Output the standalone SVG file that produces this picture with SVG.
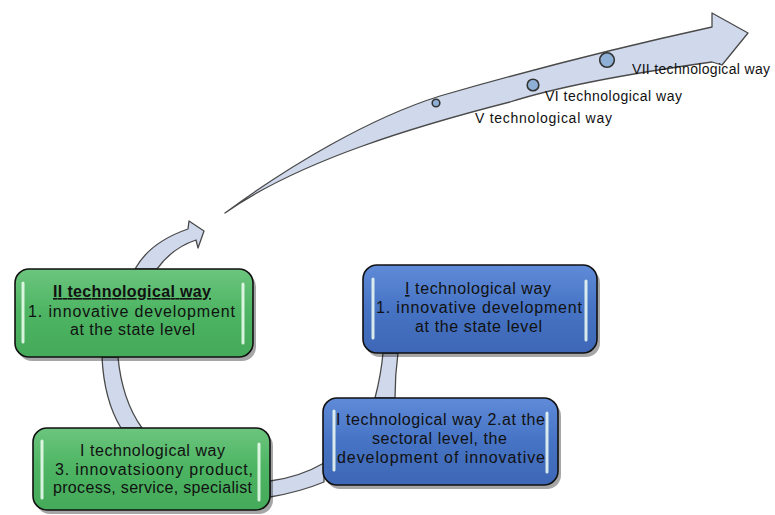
<svg xmlns="http://www.w3.org/2000/svg" width="775" height="515" viewBox="0 0 775 515">
<defs>
<linearGradient id="gGreen" x1="0" y1="0" x2="0" y2="1">
<stop offset="0" stop-color="#6cc57e"/>
<stop offset="0.5" stop-color="#4cb462"/>
<stop offset="1" stop-color="#45aa5a"/>
</linearGradient>
<linearGradient id="gBlue" x1="0" y1="0" x2="0" y2="1">
<stop offset="0" stop-color="#5f8bd8"/>
<stop offset="0.5" stop-color="#4673c4"/>
<stop offset="1" stop-color="#3e67b6"/>
</linearGradient>
<style>
.arrow{fill:#d0d9ec;stroke:#4a4a4a;stroke-width:1.3;stroke-linejoin:round}
.shadow{fill:#000;opacity:0.35}
.green{fill:url(#gGreen);stroke:#111;stroke-width:1.6}
.blue{fill:url(#gBlue);stroke:#111;stroke-width:1.6}
.hl{stroke:#f2fff4;stroke-width:3;stroke-linecap:round;opacity:0.85}
.txt{font-family:"Liberation Sans",Arial,sans-serif;font-size:16px;fill:#111}
.lbl{font-family:"Liberation Sans",Arial,sans-serif;font-size:14px;fill:#111}
.dot{fill:#8fb0d6;stroke:#333;stroke-width:1.6}
</style>
</defs>
<rect width="775" height="515" fill="#fff"/>
<g id="connectors">
<path class="arrow" d="M225,213 C290,165 370,118 440,96 C530,70 630,45 712,27 L712,13 L748,33 L722,65 L712,62 C640,72 560,86 510,102 C420,125 300,160 225,213 Z"/>
<path class="arrow" d="M135,269 Q150,242 188,229 L189,221 L204,231 L198,248 L196,240 Q172,248 157,269 Z"/>
<path class="arrow" d="M102,357 Q104,400 121,428 L142,428 Q122,400 118,357 Z"/>
<path class="arrow" d="M270,481 Q300,477 324,463 L324,482 Q300,492 270,497 Z"/>
<path class="arrow" d="M383,353 L398,353 Q395,375 395,398 L375,398 Q381,375 383,353 Z"/>
</g>
<g id="markers">
<circle class="dot" cx="436" cy="103" r="3.8"/>
<circle class="dot" cx="533" cy="85" r="5.8"/>
<circle class="dot" cx="607" cy="60" r="7.3"/>
<text class="lbl" x="475" y="123" textLength="137">V technological way</text>
<text class="lbl" x="545" y="101" textLength="137">VI technological way</text>
<text class="lbl" x="632" y="74" textLength="138">VII technological way</text>
</g>
<g id="box-II">
<rect class="shadow" x="18" y="273" width="238" height="88" rx="14"/>
<rect class="green" x="15" y="269" width="238" height="88" rx="14"/>
<line class="hl" x1="23" y1="283" x2="23" y2="342"/>
<line class="hl" x1="243" y1="284" x2="243" y2="343"/>
<text class="txt" x="53" y="297" textLength="158" font-weight="bold" text-decoration="underline">II technological way</text>
<text class="txt" x="28" y="317" textLength="207">1. innovative development</text>
<text class="txt" x="70" y="335" textLength="125">at the state level</text>
</g>
<g id="box-I-state">
<rect class="shadow" x="366" y="269" width="234" height="88" rx="14"/>
<rect class="blue" x="363" y="265" width="234" height="88" rx="14"/>
<line class="hl" x1="373" y1="279" x2="373" y2="338"/>
<line class="hl" x1="586" y1="281" x2="586" y2="340"/>
<text class="txt" x="405" y="294" textLength="146"><tspan text-decoration="underline">I</tspan> technological way</text>
<text class="txt" x="376" y="313" textLength="206">1. innovative development</text>
<text class="txt" x="415" y="332" textLength="127">at the state level</text>
</g>
<g id="box-I-product">
<rect class="shadow" x="36" y="432" width="237" height="82" rx="14"/>
<rect class="green" x="33" y="428" width="237" height="82" rx="14"/>
<line class="hl" x1="42" y1="441" x2="42" y2="498"/>
<line class="hl" x1="259" y1="444" x2="259" y2="500"/>
<text class="txt" x="80" y="456" textLength="145">I technological way</text>
<text class="txt" x="55" y="475" textLength="198">3. innovatsioony product,</text>
<text class="txt" x="53" y="493" textLength="199">process, service, specialist</text>
</g>
<g id="box-I-sectoral">
<rect class="shadow" x="326" y="402" width="235" height="87" rx="14"/>
<rect class="blue" x="323" y="398" width="235" height="87" rx="14"/>
<line class="hl" x1="334" y1="411" x2="334" y2="470"/>
<line class="hl" x1="547" y1="413" x2="547" y2="472"/>
<text class="txt" x="336" y="425" textLength="209">I technological way 2.at the</text>
<text class="txt" x="372" y="444" textLength="135">sectoral level, the</text>
<text class="txt" x="337" y="463" textLength="208">development of innovative</text>
</g>
</svg>
